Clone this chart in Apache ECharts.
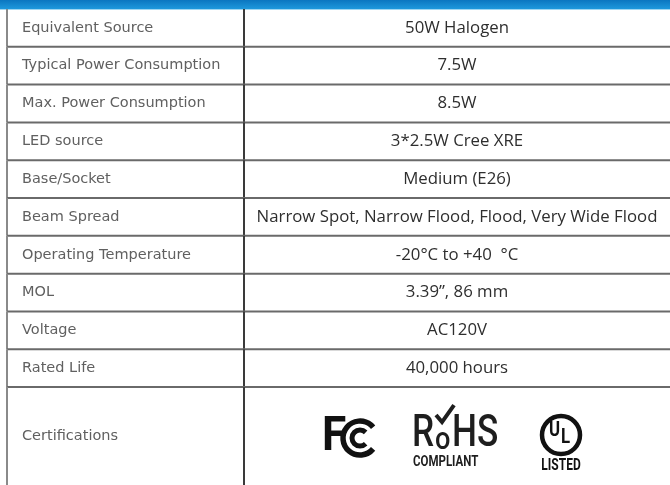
<!DOCTYPE html>
<html>
<head>
<meta charset="utf-8">
<script src="https://cdn.jsdelivr.net/npm/echarts@6/dist/echarts.min.js"></script>
<style>
  html,body{margin:0;padding:0;background:#fff;}
  #spec-table{width:670px;height:485px;}
</style>
</head>
<body>
<div id="spec-table"></div>
<script>
  // table content
  const specNames = ['Equivalent Source', 'Typical Power Consumption', 'Max. Power Consumption', 'LED source',
    'Base/Socket', 'Beam Spread', 'Operating Temperature', 'MOL', 'Voltage', 'Rated Life', 'Certifications'];
  const specValues = ['50W Halogen', '7.5W', '8.5W', '3*2.5W Cree XRE', 'Medium (E26)',
    'Narrow Spot, Narrow Flood, Flood, Very Wide Flood', '-20\u00B0C to +40  \u00B0C', '3.39\u201D, 86 mm',
    'AC120V', '40,000 hours', ''];
  const certMarks = ['FC', 'RoHS', 'UL'];

  /*layout*/
  const certRowUnits = 2.59;   // last row is taller
  const splitX = 0.3575;       // column divider (fraction of width)

  let rows = [];
  let acc = 0;
  specNames.forEach((n, i) => {
    let h = i === specNames.length - 1 ? certRowUnits : 1;
    rows.push([i, acc, acc + h]);
    acc += h;
  });
  const totalUnits = acc;

  const chart = echarts.init(document.getElementById('spec-table'));

  function logoEls(x0, x1, y0, y1) {
    // cert logos, positioned from cell center
    let cx = (x0 + x1) / 2;
    let cy = (y0 + y1) / 2 + 3;
    let els = [];
    // FC
    let fx = cx - 135;
    els.push({type: 'text', style: {text: certMarks[0].charAt(0), x: fx, y: cy - 1, fill: '#111',
      font: 'bold 48px Roboto', align: 'left', verticalAlign: 'middle'}, scaleX: 0.92, originX: fx});
    els.push({type: 'arc', shape: {cx: fx + 38, cy: cy - 1, r: 17, startAngle: Math.PI * 0.22, endAngle: Math.PI * 1.78},
      style: {stroke: '#111', lineWidth: 5.5, fill: null}});
    els.push({type: 'arc', shape: {cx: fx + 38, cy: cy - 1, r: 8, startAngle: Math.PI * 0.25, endAngle: Math.PI * 1.75},
      style: {stroke: '#111', lineWidth: 5, fill: null}});
    // RoHS
    let rx = cx - 45;
    els.push({type: 'text', style: {text: 'R', x: rx, y: cy - 4, fill: '#1e1e1e', font: '500 44px Roboto',
      align: 'left', verticalAlign: 'middle'}, scaleX: 0.8, originX: rx});
    els.push({type: 'text', style: {text: 'o', x: rx + 23, y: cy + 2, fill: '#1e1e1e', font: '500 32px Roboto',
      align: 'left', verticalAlign: 'middle'}, scaleX: 0.85, originX: rx + 23});
    els.push({type: 'text', style: {text: 'HS', x: rx + 40, y: cy - 4, fill: '#1e1e1e', font: '500 44px Roboto',
      align: 'left', verticalAlign: 'middle'}, scaleX: 0.8, originX: rx + 40});
    els.push({type: 'polyline', shape: {points: [[rx + 24, cy - 24], [rx + 30, cy - 17], [rx + 42, cy - 34]]},
      style: {stroke: '#1e1e1e', lineWidth: 4, fill: null}});
    els.push({type: 'text', style: {text: 'COMPLIANT', x: rx + 1, y: cy + 23, fill: '#1e1e1e',
      font: 'bold 14px Roboto', align: 'left', verticalAlign: 'middle'}, scaleX: 0.82, originX: rx + 1});
    // UL
    let ux = cx + 104;
    els.push({type: 'circle', shape: {cx: ux, cy: cy - 4, r: 19}, style: {stroke: '#111', lineWidth: 4.5, fill: null}});
    els.push({type: 'text', style: {text: 'U', x: ux - 1, y: cy - 8, fill: '#111', font: 'bold 21px Roboto',
      align: 'right', verticalAlign: 'middle'}, scaleX: 0.8, originX: ux - 1});
    els.push({type: 'text', style: {text: 'L', x: ux, y: cy - 1, fill: '#111', font: 'bold 21px Roboto',
      align: 'left', verticalAlign: 'middle'}, scaleX: 0.8, originX: ux});
    els.push({type: 'text', style: {text: 'LISTED', x: ux, y: cy + 27, fill: '#111', font: 'bold 16px Roboto',
      align: 'center', verticalAlign: 'middle'}, scaleX: 0.75, originX: ux});
    return els;
  }

  function renderRow(params, api) {
    let idx = api.value(0);
    let tl = api.coord([0, api.value(1)]);
    let br = api.coord([1, api.value(2)]);
    let dx = api.coord([splitX, 0])[0];
    let midY = (tl[1] + br[1]) / 2;
    let last = idx === specNames.length - 1;
    let children = [
      {type: 'line', shape: {x1: tl[0], y1: tl[1], x2: tl[0], y2: br[1]}, style: {stroke: '#8a8a8a', lineWidth: 2}},
      {type: 'line', shape: {x1: dx, y1: tl[1], x2: dx, y2: br[1]}, style: {stroke: '#3a3a3a', lineWidth: 2}},
      {type: 'text', style: {text: specNames[idx], x: tl[0] + 15, y: midY, fill: '#606060',
        font: '14.5px "DejaVu Sans"', align: 'left', verticalAlign: 'middle'}},
      {type: 'text', style: {text: specValues[idx], x: (dx + br[0]) / 2, y: midY, fill: '#2e2e2e',
        font: '16.8px "Open Sans"', align: 'center', verticalAlign: 'middle'}}
    ];
    if (!last) {
      children.push({type: 'line', shape: {x1: tl[0], y1: br[1], x2: br[0], y2: br[1]},
        style: {stroke: '#6a6a6a', lineWidth: 2}});
    } else {
      children = children.concat(logoEls(dx, br[0], tl[1], br[1]));
    }
    return {type: 'group', children: children};
  }

  let option = {
    animation: false,
    backgroundColor: '#fff',
    grid: {left: 7, right: 0, top: 9, bottom: 0},
    xAxis: {type: 'value', min: 0, max: 1, show: false},
    yAxis: {type: 'value', min: 0, max: totalUnits, inverse: true, show: false},
    graphic: [
      {type: 'rect', left: 0, top: 0, shape: {width: 670, height: 9},
        style: {fill: new echarts.graphic.LinearGradient(0, 0, 0, 1, [
          {offset: 0, color: '#0b76c0'}, {offset: 1, color: '#1e98dc'}])}},
      {type: 'rect', left: 0, top: 9, shape: {width: 670, height: 1}, style: {fill: '#9fd6f2'}}
    ],
    series: [{
      type: 'custom',
      renderItem: renderRow,
      encode: {x: -1, y: [1, 2]},
      data: rows
    }]
  };
  chart.setOption(option, true);
</script>
</body>
</html>
